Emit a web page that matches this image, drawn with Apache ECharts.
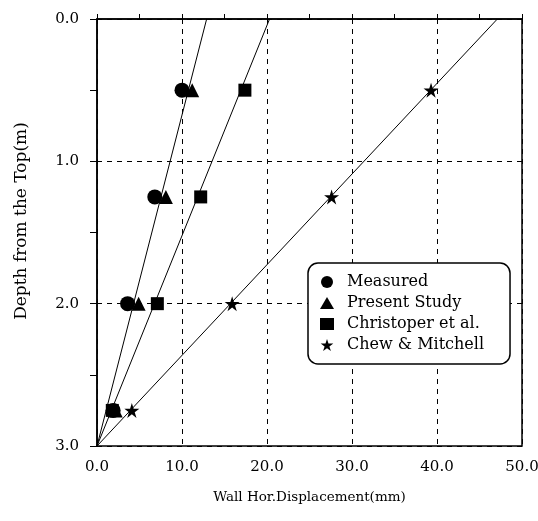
<!DOCTYPE html>
<html>
<head>
<meta charset="utf-8">
<title>Wall displacement</title>
<script src="https://cdn.jsdelivr.net/npm/echarts@6/dist/echarts.min.js"></script>
<style>
html,body{margin:0;padding:0;background:#fff;}
#chart{width:538px;height:521px;}
</style>
</head>
<body>
<div id="chart"></div>
<script>
// depths (m) where the points were read
var depths = [0.5, 1.25, 2.0, 2.75];
// displacement (mm) of each series
var measured = [10.0, 6.8, 3.6, 1.9];
var presentStudy = [11.2, 8.1, 4.9, 2.2];
var christoper = [17.4, 12.2, 7.1, 1.8];
var chewMitchell = [39.3, 27.6, 15.9, 4.1];
// straight lines: displacement at the bottom (3.0 m) and at the top (0.0 m)
var lineEnds = [0, 3.0, 0.0];
var presentLineTop = 12.9;
var christoperLineTop = 20.3;
var chewLineTop = 47.1;
var xTicks = [0, 10, 20, 30, 40, 50];
var yTicks = [0, 1, 2, 3];

var star = 'path://M50,0 L61.8,36.2 L100,36.2 L69.1,58.6 L80.9,95.1 L50,72.6 L19.1,95.1 L30.9,58.6 L0,36.2 L38.2,36.2 Z';

function pts(vals) {
  return vals.map(function (v, i) { return [v, depths[i]]; });
}
function line(top) {
  return [[lineEnds[0], lineEnds[1]], [top, lineEnds[2]]];
}
function fitLine(name, top) {
  return {
    name: name, type: 'line', data: line(top), symbol: 'none', silent: true,
    lineStyle: { color: '#000', width: 1 }, z: 2
  };
}
function marks(name, vals, symbol, size, z) {
  return {
    name: name, type: 'scatter', data: pts(vals), symbol: symbol, symbolSize: size,
    itemStyle: { color: '#000', opacity: 1 }, z: z
  };
}

var serif = 'DejaVu Serif';
var chart = echarts.init(document.getElementById('chart'));
chart.setOption({
  backgroundColor: '#fff',
  animation: false,
  grid: { left: 97, right: 16, top: 19, bottom: 75, outerBoundsMode: 'none', show: true, borderColor: '#000', borderWidth: 1.5, backgroundColor: 'transparent' },
  graphic: [{
    type: 'text', x: 22, y: 221, rotation: Math.PI / 2,
    style: { text: 'Depth from the Top(m)', font: '17px "DejaVu Serif"', fill: '#000', align: 'center', verticalAlign: 'middle' }
  }],
  xAxis: {
    type: 'value', min: xTicks[0], max: xTicks[xTicks.length - 1], interval: 10,
    name: 'Wall Hor.Displacement(mm)', nameLocation: 'middle', nameGap: 44,
    nameTextStyle: { fontFamily: serif, fontSize: 13.5, color: '#000' },
    axisLine: { lineStyle: { color: '#000', width: 1.5 } },
    axisTick: { inside: true, length: 5, lineStyle: { color: '#000' } },
    minorTick: { show: true, splitNumber: 2, length: 5, lineStyle: { color: '#000' } },
    axisLabel: { fontFamily: serif, fontSize: 15, color: '#000', margin: 14, formatter: function (v) { return v.toFixed(1); } },
    splitLine: { show: true, lineStyle: { color: '#000', type: [5, 5], width: 1 } }
  },
  yAxis: {
    type: 'value', inverse: true, min: yTicks[0], max: yTicks[yTicks.length - 1], interval: 1,
    axisLine: { lineStyle: { color: '#000', width: 1.5 } },
    axisTick: { length: 7, lineStyle: { color: '#000' } },
    minorTick: { show: true, splitNumber: 2, length: 7, lineStyle: { color: '#000' } },
    axisLabel: { fontFamily: serif, fontSize: 15, color: '#000', margin: 18, formatter: function (v) { return v.toFixed(1); } },
    splitLine: { show: true, lineStyle: { color: '#000', type: [5, 5], width: 1 } }
  },
  legend: {
    data: ['Measured', 'Present Study', 'Christoper et al.', 'Chew & Mitchell'],
    orient: 'vertical', left: 308, top: 263,
    itemWidth: 14, itemHeight: 12, itemGap: 5,
    padding: [11, 26, 11, 12],
    borderColor: '#000', borderWidth: 1.5, borderRadius: 10,
    backgroundColor: '#fff',
    textStyle: { fontFamily: serif, fontSize: 16, lineHeight: 16, color: '#000', padding: [0, 0, 0, 8] }
  },
  series: [
    fitLine('line1', presentLineTop),
    fitLine('line2', christoperLineTop),
    fitLine('line3', chewLineTop),
    marks('Measured', measured, 'circle', 15, 5),
    marks('Present Study', presentStudy, 'triangle', 14, 4),
    marks('Christoper et al.', christoper, 'rect', 13, 4),
    marks('Chew & Mitchell', chewMitchell, star, 15, 4)
  ]
});
</script>
</body>
</html>
